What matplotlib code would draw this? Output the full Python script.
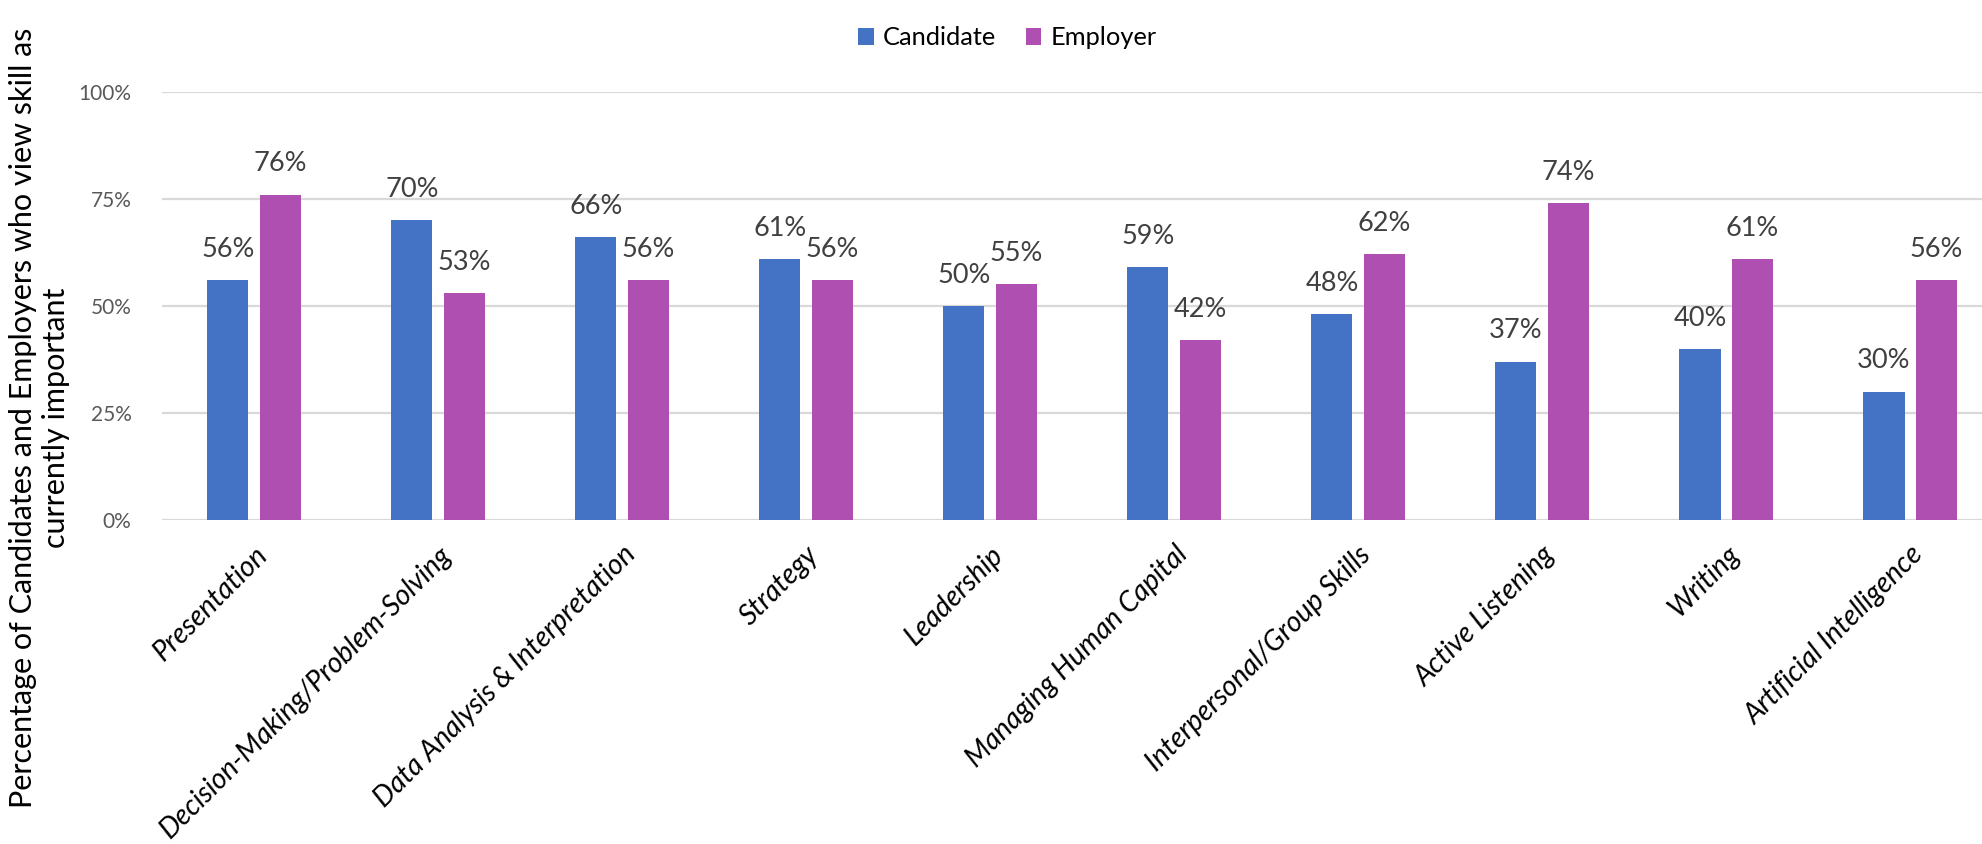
import matplotlib
matplotlib.use("Agg")
import matplotlib.pyplot as plt
import matplotlib.transforms as mtransforms
import numpy as np

plt.rcParams['font.family'] = ['Lato', 'DejaVu Sans']

# data
skills = ["Presentation", "Decision-Making/Problem-Solving", "Data Analysis & Interpretation",
          "Strategy", "Leadership", "Managing Human Capital", "Interpersonal/Group Skills",
          "Active Listening", "Writing", "Artificial Intelligence"]
candidate = [56, 70, 66, 61, 50, 59, 48, 37, 40, 30]
employer = [76, 53, 56, 56, 55, 42, 62, 74, 61, 56]
yticks = [0, 25, 50, 75, 100]

c_blue = "#4472C4"
c_purple = "#B04FB2"

fig = plt.figure(figsize=(19.83, 8.44), dpi=100)
ax = fig.add_axes([0.0817, 0.3839, 0.9183, 0.5074])

x = np.arange(len(skills))
w = 0.223
b1 = ax.bar(x - 0.142, candidate, w, color=c_blue, label="Candidate", zorder=3)
b2 = ax.bar(x + 0.142, employer, w, color=c_purple, label="Employer", zorder=3)

ax.bar_label(b1, labels=[f"{v}%" for v in candidate], padding=13, fontsize=19.5, color="#404040")
ax.bar_label(b2, labels=[f"{v}%" for v in employer], padding=13, fontsize=19.5, color="#404040")

ax.set_ylim(0, 100)
ax.set_xlim(-0.5, 9.396)
ax.set_yticks(yticks)
ax.set_yticklabels([f"{t}%" for t in yticks], fontsize=15, color="#595959")
ax.yaxis.grid(True, color="#D9D9D9", lw=1.6, zorder=0)
ax.set_axisbelow(True)
for s in ax.spines.values():
    s.set_visible(False)
ax.tick_params(axis="y", length=0, pad=22)
ax.tick_params(axis="x", length=0, pad=22)

ax.set_xticks(x)
ax.set_xticklabels(skills, rotation=45, ha="right", va="center", rotation_mode="anchor",
                   fontsize=20.3, style="italic", color="black")
shift = mtransforms.ScaledTranslation(0.09, 0, fig.dpi_scale_trans)
for lab in ax.get_xticklabels():
    lab.set_transform(lab.get_transform() + shift)

fig.text(0.02, 0.505, "Percentage of Candidates and Employers who view skill as\ncurrently important",
         rotation=90, ha="center", va="center", multialignment="center", fontsize=22, color="black")

fig.legend(handles=[b1, b2], loc="center", bbox_to_anchor=(0.508, 0.955), ncol=2, frameon=False,
           fontsize=18.3, handlelength=0.6, handleheight=0.6, handletextpad=0.35, columnspacing=1.2)

fig.savefig("out.png", dpi=100)
